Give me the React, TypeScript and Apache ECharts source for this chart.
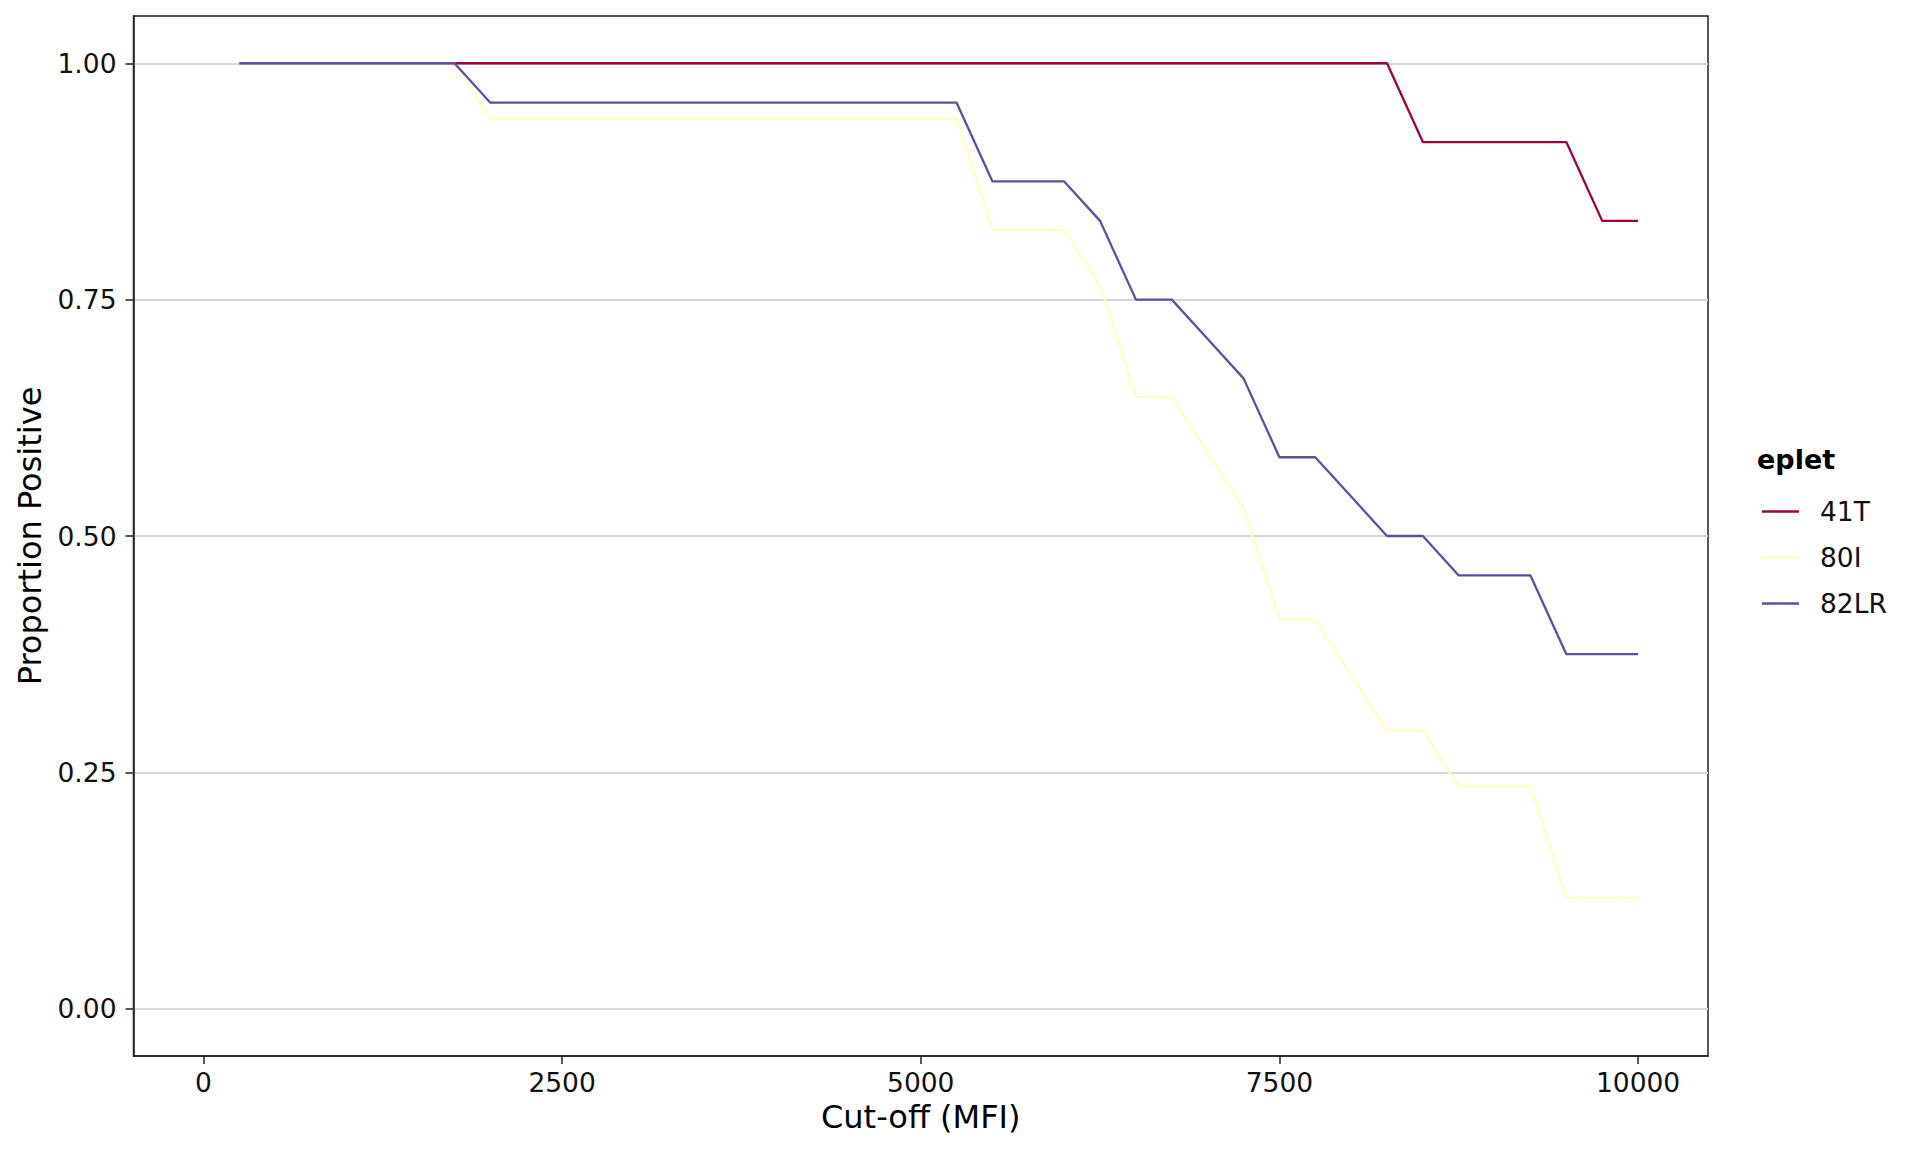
import React, { useEffect, useRef } from "react";
import * as echarts from "echarts";

const cutoffs = [
  250, 500, 750, 1000, 1250, 1500, 1750, 2000, 2250, 2500,
  2750, 3000, 3250, 3500, 3750, 4000, 4250, 4500, 4750, 5000,
  5250, 5500, 5750, 6000, 6250, 6500, 6750, 7000, 7250, 7500,
  7750, 8000, 8250, 8500, 8750, 9000, 9250, 9500, 9750, 10000,
];

const eplet41T = [
  1, 1, 1, 1, 1, 1, 1, 1, 1, 1,
  1, 1, 1, 1, 1, 1, 1, 1, 1, 1,
  1, 1, 1, 1, 1, 1, 1, 1, 1, 1,
  1, 1, 1, 0.9167, 0.9167, 0.9167, 0.9167, 0.9167, 0.8333, 0.8333,
];

const eplet80I = [
  1, 1, 1, 1, 1, 1, 1, 0.9412, 0.9412, 0.9412,
  0.9412, 0.9412, 0.9412, 0.9412, 0.9412, 0.9412, 0.9412, 0.9412, 0.9412, 0.9412,
  0.9412, 0.8235, 0.8235, 0.8235, 0.7647, 0.6471, 0.6471, 0.5882, 0.5294, 0.4118,
  0.4118, 0.3529, 0.2941, 0.2941, 0.2353, 0.2353, 0.2353, 0.1176, 0.1176, 0.1176,
];

const eplet82LR = [
  1, 1, 1, 1, 1, 1, 1, 0.9583, 0.9583, 0.9583,
  0.9583, 0.9583, 0.9583, 0.9583, 0.9583, 0.9583, 0.9583, 0.9583, 0.9583, 0.9583,
  0.9583, 0.875, 0.875, 0.875, 0.8333, 0.75, 0.75, 0.7083, 0.6667, 0.5833,
  0.5833, 0.5417, 0.5, 0.5, 0.4583, 0.4583, 0.4583, 0.375, 0.375, 0.375,
];

const seriesNames = ["41T", "80I", "82LR"];
const seriesColors = ["#9E0142", "#FFFFBF", "#5E4FA2"];
const xTicks = [0, 2500, 5000, 7500, 10000];
const yTicks = [0, 0.25, 0.5, 0.75, 1];

const FONT = "DejaVu Sans";

export default function App() {
  const ref = useRef<HTMLDivElement>(null);

  useEffect(() => {
    if (!ref.current) return;
    const chart = echarts.init(ref.current, null, { renderer: "svg" });
    const allValues = [eplet41T, eplet80I, eplet82LR];

    chart.setOption({
      animation: false,
      backgroundColor: "#ffffff",
      title: {
        text: "eplet",
        left: 1757,
        top: 446,
        padding: 0,
        textStyle: {
          fontFamily: FONT,
          fontSize: 27,
          fontWeight: "bold",
          color: "#000000",
          lineHeight: 27,
        },
      },
      legend: {
        orient: "vertical",
        left: 1762,
        top: 498,
        padding: 0,
        itemWidth: 37,
        itemHeight: 2.5,
        itemGap: 19,
        icon: "rect",
        data: seriesNames,
        textStyle: {
          fontFamily: FONT,
          fontSize: 26.5,
          color: "#111111",
          lineHeight: 27,
          padding: [0, 0, 0, 16],
        },
      },
      grid: {
        left: 133.5,
        right: 212,
        top: 16,
        bottom: 96,
        show: true,
        borderColor: "#222222",
        borderWidth: 1.5,
        backgroundColor: "transparent",
        containLabel: false,
      },
      xAxis: {
        type: "value",
        position: "bottom",
        min: -487.5,
        max: 10487.5,
        name: "Cut-off (MFI)",
        nameLocation: "middle",
        nameGap: 45,
        nameTextStyle: { fontFamily: FONT, fontSize: 32, color: "#000000" },
        axisLine: {
          show: true,
          onZero: false,
          lineStyle: { color: "#222222", width: 1.5 },
        },
        axisTick: {
          show: true,
          inside: false,
          length: 8,
          customValues: xTicks,
          lineStyle: { color: "#222222", width: 1.5 },
        },
        axisLabel: {
          customValues: xTicks,
          margin: 12.5,
          fontFamily: FONT,
          fontSize: 26.5,
          color: "#111111",
          formatter: (v: number) => String(v),
        },
        splitLine: { show: false },
      },
      yAxis: {
        type: "value",
        position: "left",
        min: -0.05,
        max: 1.05,
        name: "Proportion Positive",
        nameLocation: "middle",
        nameGap: 88,
        nameRotate: 90,
        nameTextStyle: { fontFamily: FONT, fontSize: 32, color: "#000000" },
        axisLine: {
          show: true,
          onZero: false,
          lineStyle: { color: "#222222", width: 1.5 },
        },
        axisTick: {
          show: true,
          inside: false,
          length: 8,
          customValues: yTicks,
          lineStyle: { color: "#222222", width: 1.5 },
        },
        axisLabel: {
          customValues: yTicks,
          margin: 17,
          fontFamily: FONT,
          fontSize: 26.5,
          color: "#111111",
          formatter: (v: number) => v.toFixed(2),
        },
        splitLine: {
          show: true,
          lineStyle: { color: "#d6d6d6", width: 1.8 },
        },
      },
      series: seriesNames.map((name, i) => ({
        name,
        type: "line",
        showSymbol: false,
        symbol: "none",
        color: seriesColors[i],
        lineStyle: { color: seriesColors[i], width: 2.3 },
        data: cutoffs.map((x, j) => [x, allValues[i][j]]),
        z: 2 + i,
      })),
    });

    return () => chart.dispose();
  }, []);

  return (
    <div
      ref={ref}
      style={{ position: "fixed", left: 0, top: 0, width: 1920, height: 1152 }}
    />
  );
}
